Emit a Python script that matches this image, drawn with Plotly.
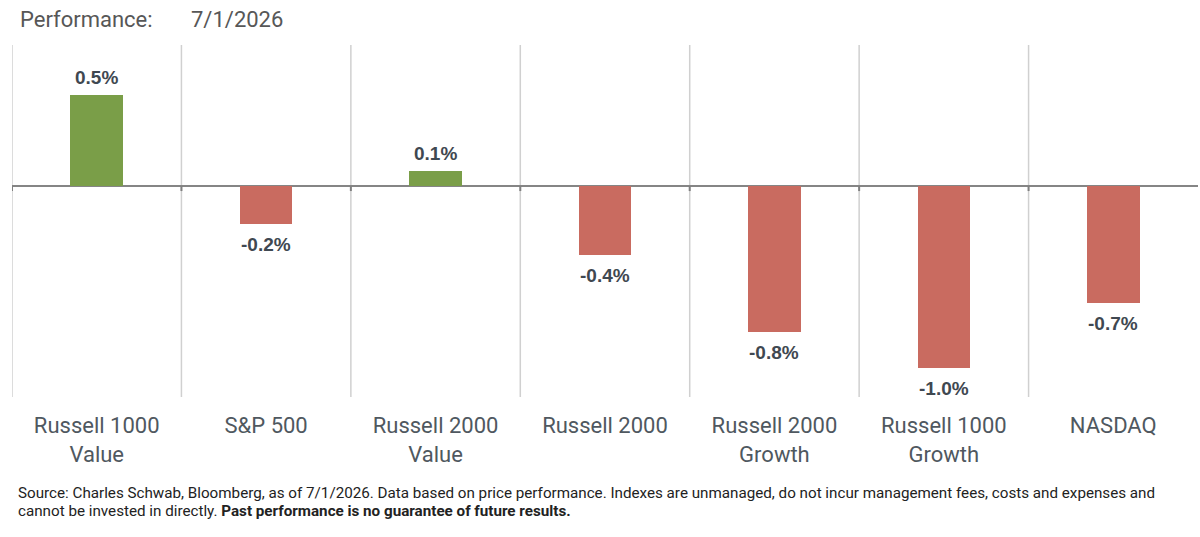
import plotly.graph_objects as go

categories = ["Russell 1000<br>Value", "S&P 500", "Russell 2000<br>Value", "Russell 2000",
              "Russell 2000<br>Growth", "Russell 1000<br>Growth", "NASDAQ"]
values = [0.50, -0.21, 0.08, -0.38, -0.80, -1.00, -0.64]
value_labels = ["0.5%", "-0.2%", "0.1%", "-0.4%", "-0.8%", "-1.0%", "-0.7%"]
title_label = "Performance:"
title_date = "7/1/2026"
footer_line1 = ("Source: Charles Schwab, Bloomberg, as of 7/1/2026. Data based on price performance. "
                "Indexes are unmanaged, do not incur management fees, costs and expenses and")
footer_line2 = "cannot be invested in directly. <b>Past performance is no guarantee of future results.</b>"

GREEN = "#7a9e48"
RED = "#c96b60"
colors = [GREEN if v >= 0 else RED for v in values]
idx = list(range(len(categories)))

fig = go.Figure()
fig.add_trace(go.Bar(
    x=idx, y=values, width=0.31, marker=dict(color=colors, line=dict(width=0)),
    hoverinfo="skip",
))

shapes = []
for i in idx:
    shapes.append(dict(type="line", xref="x", yref="paper", x0=i - 0.5, x1=i - 0.5, y0=0, y1=1,
                       line=dict(color="#d0d0d0", width=1.5), layer="below"))
    shapes.append(dict(type="line", xref="x", yref="y", x0=i - 0.5, x1=i - 0.5,
                       ysizemode="pixel", yanchor=0, y0=0, y1=-5,
                       line=dict(color="#808080", width=2)))

annotations = []
for i, v, lab in zip(idx, values, value_labels):
    annotations.append(dict(
        x=i, y=v, xref="x", yref="y", text="<b>" + lab + "</b>", showarrow=False,
        xanchor="center", yanchor="bottom" if v >= 0 else "top",
        yshift=5 if v >= 0 else -8,
        font=dict(family="Liberation Sans, Arial, sans-serif", size=19, color="#3f4851"),
    ))

annotations += [
    dict(text=title_label, xref="paper", yref="paper", x=(18 - 12) / 1186, y=1 + 25 / 352,
         xanchor="left", yanchor="middle", showarrow=False,
         font=dict(family="Roboto, sans-serif", size=22, color="#575757")),
    dict(text=title_date, xref="paper", yref="paper", x=(189 - 12) / 1186, y=1 + 25 / 352,
         xanchor="left", yanchor="middle", showarrow=False,
         font=dict(family="Roboto, sans-serif", size=22, color="#575757")),
    dict(text=footer_line1, xref="paper", yref="paper",
         x=(16 - 12) / 1186, y=-(493 - 397) / 352, xanchor="left", yanchor="middle",
         align="left", showarrow=False,
         font=dict(family="Roboto, sans-serif", size=15.2, color="#222222")),
    dict(text=footer_line2, xref="paper", yref="paper",
         x=(16 - 12) / 1186, y=-(511 - 397) / 352, xanchor="left", yanchor="middle",
         align="left", showarrow=False,
         font=dict(family="Roboto, sans-serif", size=15.2, color="#222222")),
]

fig.update_layout(
    width=1200, height=537,
    margin=dict(l=12, r=2, t=45, b=140),
    paper_bgcolor="white", plot_bgcolor="white",
    showlegend=False, bargap=0,
    shapes=shapes,
    annotations=annotations,
    xaxis=dict(tickmode="array", tickvals=idx, ticktext=categories, range=[-0.5, 6.5],
               showgrid=False, zeroline=False, showline=False, ticks="",
               ticklabelstandoff=13,
               tickfont=dict(family="Roboto, sans-serif", size=22, color="#4f5860")),
    yaxis=dict(range=[-1.159, 0.775], showgrid=False, showticklabels=False,
               zeroline=True, zerolinecolor="#858585", zerolinewidth=2, ticks=""),
)

fig.write_html("out.html")
